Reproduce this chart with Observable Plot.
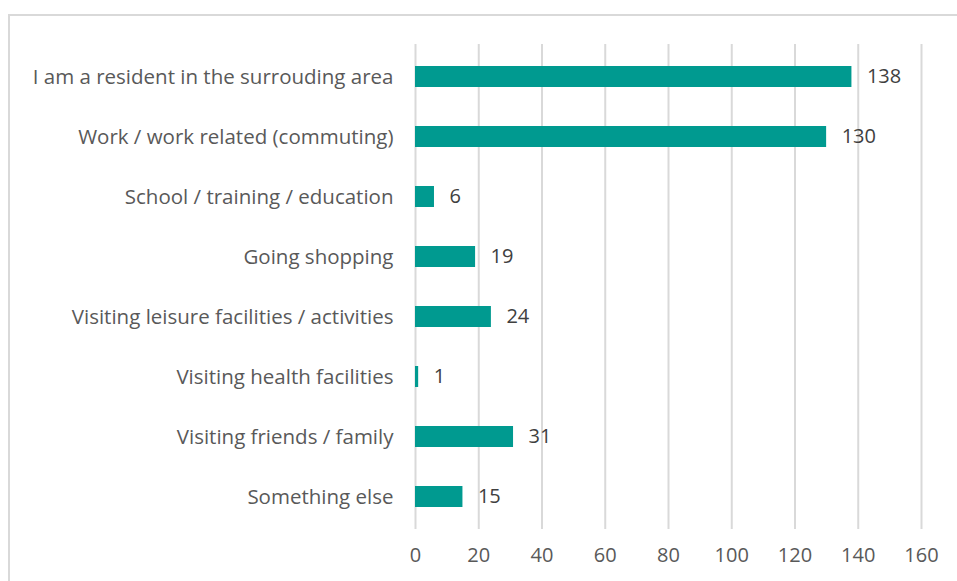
<!DOCTYPE html>
<html>
<head>
<meta charset="utf-8">
<script src="https://cdn.jsdelivr.net/npm/d3@7"></script>
<script src="https://cdn.jsdelivr.net/npm/@observablehq/plot@0.6"></script>
<style>
  html, body { margin: 0; padding: 0; background: #fff; overflow: hidden; }
  #wrap { position: relative; width: 957px; height: 581px; }
  #frame { position: absolute; left: 8px; top: 14px; width: 1000px; height: 700px;
           border-top: 2px solid #d9d9d9; border-left: 2px solid #d9d9d9; box-sizing: border-box; }
  #chart { position: absolute; left: 0; top: 0; }
</style>
</head>
<body>
<div id="wrap"><div id="frame"></div><div id="chart"></div></div>
<script>
const categories = [
  "I am a resident in the surrouding area",
  "Work / work related (commuting)",
  "School / training / education",
  "Going shopping",
  "Visiting leisure facilities / activities",
  "Visiting health facilities",
  "Visiting friends / family",
  "Something else"
];
const values = [138, 130, 6, 19, 24, 1, 31, 15];
const xTicks = [0, 20, 40, 60, 80, 100, 120, 140, 160];

const data = categories.map((c, i) => ({category: c, value: values[i]}));
const font = "'Open Sans', 'Noto Sans', sans-serif";

const chart = Plot.plot({
  width: 957,
  height: 581,
  marginLeft: 415,
  marginRight: 36,
  marginTop: 44,
  marginBottom: 52,
  style: {fontFamily: font, fontSize: "20px", color: "#595959", background: "transparent"},
  x: {domain: [0, 160], ticks: xTicks, label: null},
  y: {domain: categories, label: null, paddingInner: 0.655, paddingOuter: 0.3275},
  marks: [
    Plot.gridX(xTicks, {stroke: "#d9d9d9", strokeOpacity: 1, strokeWidth: 2}),
    Plot.barX(data, {x: "value", y: "category", fill: "#009a90"}),
    Plot.text(data, {x: "value", y: "category", text: d => String(d.value), dx: 15, textAnchor: "start",
      fill: "#404040", fontSize: 20}),
    Plot.axisX(xTicks, {tickSize: 0, tickPadding: 18, fontSize: 20, fill: "#595959", label: null}),
    Plot.axisY({tickSize: 0, tickPadding: 22, fontSize: 20.5, fill: "#595959", label: null})
  ]
});
document.getElementById("chart").appendChild(chart);
</script>
</body>
</html>
